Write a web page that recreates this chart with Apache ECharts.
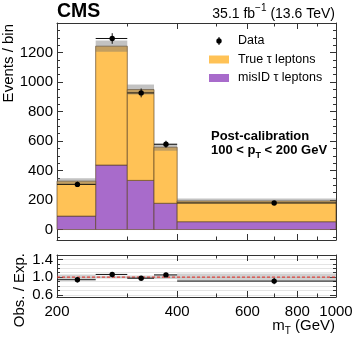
<!DOCTYPE html>
<html><head><meta charset="utf-8">
<script src="https://cdn.jsdelivr.net/npm/echarts@6/dist/echarts.min.js"></script>
<style>html,body{margin:0;padding:0;background:#fff}#c{width:357px;height:340px}</style>
</head><body><div id="c"></div>
<script>
// ---- data ----
const binEdges   = [200, 250, 300, 350, 400, 1000];
const binCenters = [225, 275, 325, 375, 700];
const trueTau    = [237, 806, 616, 380, 141];
const misIdTau   = [91, 437, 333, 178, 53];
const mcUnc      = [20, 38, 34, 24, 16];
const dataCounts = [306, 1295, 926, 578, 180];
const dataErr    = [18, 36, 30, 24, 13];
const ratioVals  = [0.94, 1.06, 0.975, 1.05, 0.91];
const ratioErr   = [0.06, 0.03, 0.035, 0.045, 0.07];
const ratioRef   = [1.0];
// ---- ticks ----
const xMajorTicks = [200, 400, 600, 800, 1000];
const xMinorTicks = [300, 500, 700, 900];
const yMainTicks  = [0, 200, 400, 600, 800, 1000, 1200];
const yMainMinor  = [-50, 50, 100, 150, 250, 300, 350, 450, 500, 550, 650, 700, 750, 850, 900, 950, 1050, 1100, 1150, 1250, 1300, 1350];
const yRatioTicks = [0.6, 1.0, 1.4];
const yRatioMinor = [0.7, 0.8, 0.9, 1.1, 1.2, 1.3, 1.5];
const yRatioGrid  = [0.6, 0.7, 0.8, 0.9, 1.0, 1.1, 1.2, 1.3, 1.4, 1.5];

const FONT = '"Liberation Sans", Arial, Helvetica, sans-serif';
const AX = '#333';
const ORANGE = '#ffc256';
const PURPLE = '#a86bcb';
const EDGE = 'rgba(90,65,35,0.65)';
const BAND = 'rgba(110,110,110,0.42)';
const L = v => Math.log10(v);
const totals = trueTau.map((t, i) => t + misIdTau[i]);

const chart = echarts.init(document.getElementById('c'), null, {renderer: 'canvas'});

function xAx(grid, pos, vals, len, labels, line) {
  return {
    type: 'value', gridIndex: grid, position: pos, min: L(200), max: L(1000),
    axisLine: {show: line, onZero: false, lineStyle: {color: AX, width: 1}},
    axisTick: {show: true, inside: true, length: len, customValues: vals.map(L), lineStyle: {color: AX, width: 1}},
    axisLabel: labels ? {show: true, customValues: vals.map(L), formatter: v => String(Math.round(Math.pow(10, v))),
      fontSize: 15, color: '#000', fontFamily: FONT, margin: 7} : {show: false},
    splitLine: {show: false}
  };
}
function yAx(grid, pos, min, max, vals, len, labels, line, fmt, split) {
  return {
    type: 'value', gridIndex: grid, position: pos, min: min, max: max,
    axisLine: {show: line, onZero: false, lineStyle: {color: AX, width: 1}},
    axisTick: {show: true, inside: true, length: len, customValues: vals, lineStyle: {color: AX, width: 1}},
    axisLabel: labels ? {show: true, customValues: vals, formatter: fmt, fontSize: 15, color: '#000', fontFamily: FONT, margin: 4} : {show: false},
    splitLine: split ? {show: true, lineStyle: {color: '#e4e4e4', width: 1}} : {show: false}
  };
}

function rectRender(fill, stroke) {
  return function (params, api) {
    const lo = api.value(0), hi = api.value(1), y0 = api.value(2), y1 = api.value(3);
    const p0 = api.coord([L(lo), y0]), p1 = api.coord([L(hi), y1]);
    return {type: 'rect', shape: {x: p0[0], y: p1[1], width: p1[0] - p0[0], height: p0[1] - p1[1]},
      style: {fill: fill, stroke: stroke, lineWidth: stroke ? 1 : 0}};
  };
}
function dataRender(r) {
  return function (params, api) {
    const c = api.value(0), lo = api.value(1), hi = api.value(2), y = api.value(3), e = api.value(4);
    const pc = api.coord([L(c), y]), pl = api.coord([L(lo), y]), ph = api.coord([L(hi), y]);
    const pt = api.coord([L(c), y + e]), pb = api.coord([L(c), y - e]);
    return {type: 'group', children: [
      {type: 'line', shape: {x1: pl[0], y1: pl[1], x2: ph[0], y2: ph[1]}, style: {stroke: '#111', lineWidth: 1}},
      {type: 'line', shape: {x1: pt[0], y1: pt[1], x2: pb[0], y2: pb[1]}, style: {stroke: '#111', lineWidth: 1}},
      {type: 'circle', shape: {cx: pc[0], cy: pc[1], r: r}, style: {fill: '#000'}}
    ]};
  };
}
function refLineRender(params, api) {
  const y = api.value(0);
  const p0 = api.coord([L(xMajorTicks[0]), y]), p1 = api.coord([L(xMajorTicks[xMajorTicks.length - 1]), y]);
  return {type: 'line', shape: {x1: p0[0], y1: p0[1], x2: p1[0], y2: p1[1]},
    style: {stroke: '#e8241c', lineWidth: 1, lineDash: [3, 2]}};
}

const binIdx = binCenters.map((_, i) => i);

chart.setOption({
  animation: false,
  backgroundColor: '#fff',
  grid: [
    {left: 57, right: 21, top: 23, height: 217, containLabel: false},
    {left: 57, right: 21, top: 255, height: 42, containLabel: false}
  ],
  xAxis: [
    xAx(0, 'bottom', xMajorTicks, 6, false, true),
    xAx(0, 'bottom', xMinorTicks, 3.5, false, false),
    xAx(0, 'top', xMajorTicks, 6, false, true),
    xAx(0, 'top', xMinorTicks, 3.5, false, false),
    xAx(1, 'bottom', xMajorTicks, 6, true, true),
    xAx(1, 'bottom', xMinorTicks, 3.5, false, false),
    xAx(1, 'top', xMajorTicks, 6, false, true),
    xAx(1, 'top', xMinorTicks, 3.5, false, false)
  ],
  yAxis: [
    yAx(0, 'left', -71, 1400, yMainTicks, 6, true, true, v => String(Math.round(v)), false),
    yAx(0, 'left', -71, 1400, yMainMinor, 3, false, false, null, false),
    yAx(0, 'right', -71, 1400, yMainTicks, 6, false, true, null, false),
    yAx(0, 'right', -71, 1400, yMainMinor, 3, false, false, null, false),
    yAx(1, 'left', 0.55, 1.5, yRatioTicks, 6, true, true, v => v.toFixed(1), false),
    yAx(1, 'left', 0.55, 1.5, yRatioMinor, 3, false, false, null, false),
    yAx(1, 'right', 0.55, 1.5, yRatioTicks, 6, false, true, null, false),
    yAx(1, 'right', 0.55, 1.5, yRatioGrid, 3, false, false, null, true)
  ],
  series: [
    {name: 'misID τ leptons', type: 'custom', xAxisIndex: 0, yAxisIndex: 0, z: 2,
     data: binIdx.map(i => [binEdges[i], binEdges[i + 1], 0, misIdTau[i]]), renderItem: rectRender(PURPLE, EDGE)},
    {name: 'True τ leptons', type: 'custom', xAxisIndex: 0, yAxisIndex: 0, z: 2,
     data: binIdx.map(i => [binEdges[i], binEdges[i + 1], misIdTau[i], totals[i]]), renderItem: rectRender(ORANGE, EDGE)},
    {name: 'Unc', type: 'custom', xAxisIndex: 0, yAxisIndex: 0, z: 3,
     data: binIdx.map(i => [binEdges[i], binEdges[i + 1], totals[i] - mcUnc[i], totals[i] + mcUnc[i]]), renderItem: rectRender(BAND, null)},
    {name: 'Data', type: 'custom', xAxisIndex: 0, yAxisIndex: 0, z: 5,
     data: binIdx.map(i => [binCenters[i], binEdges[i], binEdges[i + 1], dataCounts[i], dataErr[i]]), renderItem: dataRender(2.7)},
    {name: 'RatioUnc', type: 'custom', xAxisIndex: 4, yAxisIndex: 4, z: 3,
     data: binIdx.map(i => [binEdges[i], binEdges[i + 1], 1 - mcUnc[i] / totals[i], 1 + mcUnc[i] / totals[i]]), renderItem: rectRender('rgba(120,120,120,0.35)', null)},
    {name: 'RatioRef', type: 'custom', xAxisIndex: 4, yAxisIndex: 4, z: 4,
     data: ratioRef.map(v => [v]), renderItem: refLineRender},
    {name: 'Ratio', type: 'custom', xAxisIndex: 4, yAxisIndex: 4, z: 5,
     data: binIdx.map(i => [binCenters[i], binEdges[i], binEdges[i + 1], ratioVals[i], ratioErr[i]]), renderItem: dataRender(2.7)}
  ],
  graphic: [
    {type: 'text', x: 57, y: 12, style: {text: 'CMS', font: 'bold 19.5px ' + FONT, fill: '#000', align: 'left', verticalAlign: 'middle'}},
    {type: 'text', x: 335, y: 12.5, style: {text: '{n|35.1 fb}{s|−1}{n| (13.6 TeV)}', align: 'right', verticalAlign: 'middle',
      rich: {n: {fontSize: 14, fontFamily: FONT, fill: '#000', lineHeight: 18, verticalAlign: 'bottom'},
             s: {fontSize: 10, fontFamily: FONT, fill: '#000', lineHeight: 9, verticalAlign: 'top'}}}},
    {type: 'text', x: 9, y: 24, rotation: Math.PI / 2, style: {text: 'Events / bin', font: '15px ' + FONT, fill: '#000', align: 'right', verticalAlign: 'middle'}},
    {type: 'text', x: 20, y: 253, rotation: Math.PI / 2, style: {text: 'Obs. / Exp.', font: '15px ' + FONT, fill: '#000', align: 'right', verticalAlign: 'middle'}},
    {type: 'text', x: 335, y: 327, style: {text: '{n|m}{s|T}{n| (GeV)}', align: 'right', verticalAlign: 'middle',
      rich: {n: {fontSize: 15, fontFamily: FONT, fill: '#000', lineHeight: 18, verticalAlign: 'top'},
             s: {fontSize: 10, fontFamily: FONT, fill: '#000', lineHeight: 10, verticalAlign: 'bottom'}}}},
    // legend
    {type: 'line', shape: {x1: 219, y1: 37, x2: 219, y2: 45}, style: {stroke: '#000', lineWidth: 1}},
    {type: 'circle', shape: {cx: 219, cy: 41, r: 2.7}, style: {fill: '#000'}},
    {type: 'text', x: 238, y: 41, style: {text: 'Data', font: '12.5px ' + FONT, fill: '#000', verticalAlign: 'middle'}},
    {type: 'rect', shape: {x: 209, y: 55.5, width: 20, height: 8}, style: {fill: ORANGE}},
    {type: 'text', x: 238, y: 59.5, style: {text: 'True τ leptons', font: '12.5px ' + FONT, fill: '#000', verticalAlign: 'middle'}},
    {type: 'rect', shape: {x: 209, y: 74, width: 20, height: 8}, style: {fill: PURPLE}},
    {type: 'text', x: 238, y: 78, style: {text: 'misID τ leptons', font: '12.5px ' + FONT, fill: '#000', verticalAlign: 'middle'}},
    // annotation
    {type: 'text', x: 211, y: 136, style: {text: 'Post-calibration', font: 'bold 13px ' + FONT, fill: '#000', verticalAlign: 'middle'}},
    {type: 'text', x: 211, y: 152, style: {text: '{b|100 < p}{s|T}{b| < 200 GeV}', verticalAlign: 'middle',
      rich: {b: {fontSize: 13, fontWeight: 'bold', fontFamily: FONT, fill: '#000', lineHeight: 16, verticalAlign: 'top'},
             s: {fontSize: 9, fontWeight: 'bold', fontFamily: FONT, fill: '#000', lineHeight: 9, verticalAlign: 'bottom'}}}}
  ]
});
</script>
</body></html>
